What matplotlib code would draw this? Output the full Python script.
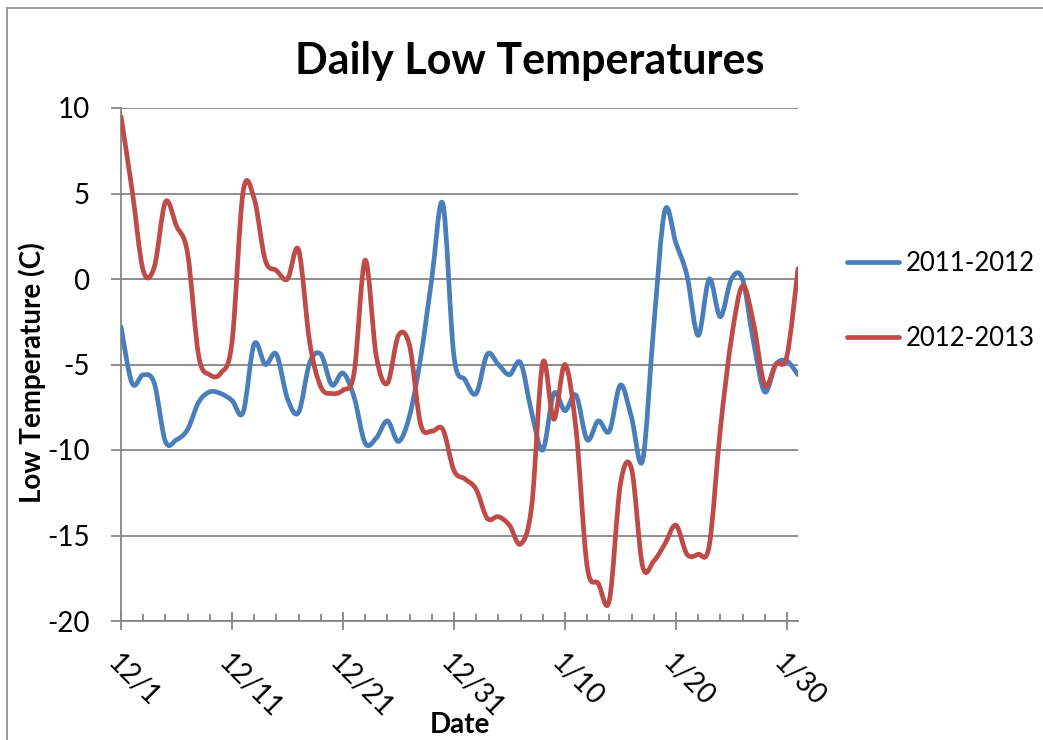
import numpy as np
import matplotlib
matplotlib.use('Agg')
import matplotlib.pyplot as plt
from matplotlib.path import Path
from matplotlib.patches import PathPatch, Rectangle
from matplotlib.lines import Line2D

plt.rcParams['font.family'] = ['Lato', 'DejaVu Sans']
plt.rcParams['axes.unicode_minus'] = False

# days since 12/1
days = np.arange(62)
tick_days = [0, 10, 20, 30, 40, 50, 60]
tick_labels = ['12/1', '12/11', '12/21', '12/31', '1/10', '1/20', '1/30']

low_2011 = [-2.8, -6.1, -5.6, -6.1, -9.5, -9.4, -8.8, -7.2, -6.6, -6.7,
            -7.1, -7.8, -3.8, -5.0, -4.4, -7.0, -7.8, -4.9, -4.4, -6.2,
            -5.5, -6.9, -9.6, -9.3, -8.3, -9.5, -8.0, -4.6, 0.0, 4.4,
            -4.5, -5.9, -6.7, -4.4, -5.0, -5.6, -4.9, -7.8, -10.0, -6.7,
            -7.7, -6.8, -9.4, -8.3, -8.9, -6.2, -8.1, -10.6, -2.8, 4.0,
            2.1, 0.2, -3.3, 0.0, -2.2, 0.0, 0.0, -3.7, -6.6, -5.0,
            -4.8, -5.6]

low_2012 = [9.5, 5.2, 0.5, 0.7, 4.5, 3.1, 1.5, -4.5, -5.6, -5.5,
            -3.7, 5.1, 4.7, 1.1, 0.5, 0.0, 1.7, -3.7, -6.3, -6.7,
            -6.5, -5.5, 1.1, -4.5, -6.1, -3.3, -3.9, -8.5, -8.9, -8.8,
            -11.2, -11.7, -12.3, -14.0, -13.9, -14.4, -15.5, -13.3, -4.9, -8.2,
            -5.0, -8.8, -16.8, -17.8, -18.8, -12.0, -11.1, -16.8, -16.5, -15.5,
            -14.4, -16.1, -16.1, -15.6, -8.8, -3.5, -0.4, -2.6, -6.2, -5.0,
            -4.5, 0.6]


def smooth_path(x, y):
    # excel style smoothed line: cubic bezier through every point
    p = np.column_stack([x, y]).astype(float)
    ext = np.vstack([p[0], p, p[-1]])
    verts = [p[0]]
    codes = [Path.MOVETO]
    for i in range(len(p) - 1):
        c1 = ext[i + 1] + (ext[i + 2] - ext[i]) / 6.0
        c2 = ext[i + 2] - (ext[i + 3] - ext[i + 1]) / 6.0
        verts += [c1, c2, p[i + 1]]
        codes += [Path.CURVE4] * 3
    return Path(verts, codes)


blue = '#4A7EBB'
red = '#BE4B48'
grey = '#868686'

fig = plt.figure(figsize=(10.43, 7.40), dpi=100)
ax = fig.add_axes([121/1043, 1 - 621/740, 677/1043, 513/740])

for vals, c in [(low_2011, blue), (low_2012, red)]:
    ax.add_patch(PathPatch(smooth_path(days, vals), facecolor='none',
                           edgecolor=c, lw=3.4, capstyle='round',
                           joinstyle='round', zorder=3))

ax.set_xlim(0, 61)
ax.set_ylim(-20, 10)
ax.set_yticks(np.arange(-20, 11, 5))
ax.set_xticks(tick_days)
ax.set_xticklabels(tick_labels, rotation=-45, ha='left', va='top',
                   rotation_mode='anchor')
ax.set_xticks(np.arange(2, 61, 2), minor=True)
ax.grid(axis='y', color=grey, lw=1.3)
ax.set_axisbelow(True)

for s in ['top', 'right']:
    ax.spines[s].set_visible(False)
for s in ['left', 'bottom']:
    ax.spines[s].set_color(grey)
    ax.spines[s].set_linewidth(1.3)

ax.tick_params(axis='y', direction='out', length=7.5, width=1.3,
               color=grey, labelsize=20, pad=15)
ax.tick_params(axis='x', which='major', direction='inout', length=13,
               width=1.3, color=grey, labelsize=20, pad=14)
ax.tick_params(axis='x', which='minor', direction='in', length=5,
               width=1.3, color=grey)

ax.set_ylabel('Low Temperature (C)', fontsize=20, fontweight='bold',
              va='center', ha='center')
ax.yaxis.set_label_coords(-0.1315, 0.485)
ax.set_xlabel('Date', fontsize=20, fontweight='bold', va='baseline')
ax.xaxis.set_label_coords(0.5, -0.218)

fig.text(530/1043, 1 - 74/740, 'Daily Low Temperatures', fontsize=31,
         fontweight='bold', ha='center', va='baseline')

handles = [Line2D([], [], color=blue, lw=3.4, solid_capstyle='round'),
           Line2D([], [], color=red, lw=3.4, solid_capstyle='round')]
ax.legend(handles, ['2011-2012', '2012-2013'], loc='center left',
          bbox_to_anchor=(1.072, 0.624), frameon=False, fontsize=18.5,
          handlelength=2.05, handletextpad=0.25, labelspacing=1.95,
          borderpad=0, borderaxespad=0)

fig.add_artist(Rectangle((7/1043, -0.1), 2, 1.1 - 8/740,
                         transform=fig.transFigure, fill=False,
                         edgecolor='#898989', lw=1.2))

plt.savefig('out.png', dpi=100)
